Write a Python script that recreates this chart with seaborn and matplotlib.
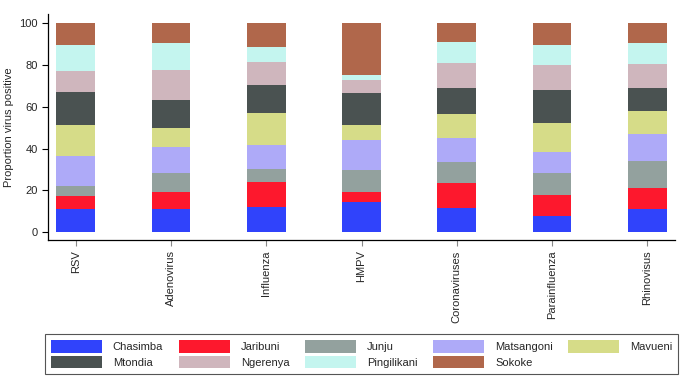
import numpy as np
import pandas as pd
import seaborn as sns
import matplotlib.pyplot as plt
from matplotlib.patches import Patch

viruses = ['RSV', 'Adenovirus', 'Influenza', 'HMPV', 'Coronaviruses', 'Parainfluenza', 'Rhinovisus']
locations = ['Chasimba', 'Jaribuni', 'Junju', 'Matsangoni', 'Mavueni',
             'Mtondia', 'Ngerenya', 'Pingilikani', 'Sokoke']

# proportion (%) of positives from each location, per virus
chasimba = [11.0, 11.0, 11.9, 14.3, 11.5, 7.9, 11.0]
jaribuni = [6.5, 8.4, 12.3, 5.0, 11.9, 10.1, 10.3]
junju = [4.6, 8.9, 6.2, 10.6, 10.2, 10.5, 12.8]
matsangoni = [14.5, 12.5, 11.3, 14.2, 11.6, 9.7, 12.7]
mavueni = [14.5, 8.9, 15.3, 7.0, 11.5, 13.9, 11.0]
mtondia = [15.9, 13.5, 13.4, 15.6, 12.2, 15.7, 11.1]
ngerenya = [10.2, 14.2, 11.1, 6.1, 11.8, 12.1, 11.5]
pingilikani = [12.1, 12.9, 6.9, 2.2, 10.2, 9.4, 10.0]
sokoke = [10.7, 9.7, 11.6, 25.0, 9.1, 10.7, 9.6]

colors = ['#3043fb', '#fd182d', '#93a19e', '#aeaaf8', '#d6dc88',
          '#4a5251', '#cfb6bd', '#c4f5ef', '#b0674b']

#%%
df = pd.DataFrame([chasimba, jaribuni, junju, matsangoni, mavueni,
                   mtondia, ngerenya, pingilikani, sokoke],
                  index=locations, columns=viruses)
cum = df.cumsum()

sns.set_style('white')
plt.rcParams['font.family'] = ['Liberation Sans', 'DejaVu Sans']

fig = plt.figure(figsize=(6.83, 3.92), dpi=100)
ax = fig.add_axes([0.0703, 0.388, 0.918, 0.576])

# draw cumulative bars from the top layer down so each covers the ones above
for loc, col in zip(locations[::-1], colors[::-1]):
    d = pd.DataFrame({'Virus': viruses, 'Value': cum.loc[loc].values})
    sns.barplot(data=d, x='Virus', y='Value', color=col, width=0.406,
                linewidth=0, saturation=1, ax=ax)

ax.set_xlim(-0.29, 6.29)
ax.set_ylim(-3.7, 104.3)
ax.set_yticks([0, 20, 40, 60, 80, 100])
ax.set_xlabel('')
ax.set_ylabel('Proportion virus positive', fontsize=8)
ax.tick_params(axis='y', labelsize=8, length=4, width=0.8, color='black', left=True)
ax.tick_params(axis='x', labelsize=8, length=4, width=0.8, color='#888888',
               rotation=90, bottom=True)
sns.despine(ax=ax)
for s in ['left', 'bottom']:
    ax.spines[s].set_color('black')
    ax.spines[s].set_linewidth(0.9)

# legend fills column-wise, so reorder to get row-wise layout
order = [0, 5, 1, 6, 2, 7, 3, 8, 4]
handles = [Patch(facecolor=colors[i], edgecolor='none') for i in order]
labels = [locations[i] for i in order]
leg = fig.legend(handles, labels, loc='center', ncol=5, mode='expand',
                 bbox_to_anchor=(0.066, 0.043, 0.927, 0.107), fontsize=8,
                 handlelength=4.6, handleheight=1.4, handletextpad=1.0,
                 borderaxespad=0, fancybox=False, framealpha=1,
                 edgecolor='#555555', labelspacing=0.25, borderpad=0.5,
                 columnspacing=1.0)
leg.get_frame().set_linewidth(0.8)
leg._legend_box.align = 'left'

plt.savefig('out.png', dpi=100)
